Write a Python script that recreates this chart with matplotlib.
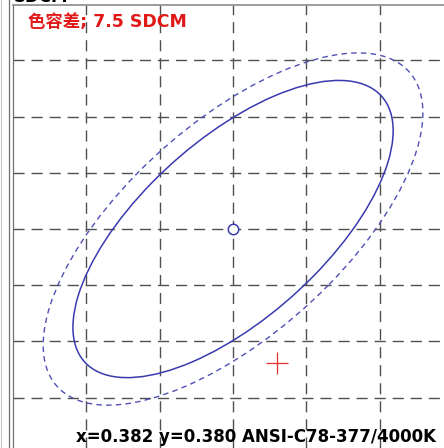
import matplotlib.pyplot as plt
import numpy as np
from matplotlib.patches import Ellipse
from matplotlib.lines import Line2D

# chromaticity target (ANSI 4000K) and grid
center_x, center_y = 0.382, 0.380
grid_x = [0.372, 0.377, 0.382, 0.387, 0.392]
grid_y = [0.365, 0.370, 0.375, 0.380, 0.385, 0.390, 0.395]
x_lim = (0.36699, 0.39639)
y_lim = (0.36052, 0.39993)

# ellipses in CIE xy: semi-axis a, semi-axis b, angle (deg)
inner_ellipse = (0.0157, 0.0069, 53.1)
outer_ellipse = (0.0186, 0.0082, 53.1)

# measured point
meas_x, meas_y = 0.385, 0.3681

title = '色容差; 7.5 SDCM'
footer = 'x=0.382 y=0.380 ANSI-C78-377/4000K'

blue = '#3a3ab0'
grid_col = '#505050'

fig = plt.figure(figsize=(4.44, 4.48), dpi=100)
ax = fig.add_axes([13/444, 0, 431/444, 443/448])
ax.set_xlim(*x_lim)
ax.set_ylim(*y_lim)
ax.set_xticks([])
ax.set_yticks([])
for s in ['right', 'bottom']:
    ax.spines[s].set_visible(False)
ax.spines['top'].set_color('#8a8a8a')
ax.spines['left'].set_color('#707070')
ax.spines['top'].set_linewidth(1.2)
ax.spines['left'].set_linewidth(0.9)

dash = (0, (8, 5))
for gx in grid_x:
    ax.axvline(gx, color=grid_col, lw=1.0, ls=dash, zorder=1)
for gy in grid_y:
    ax.axhline(gy, color=grid_col, lw=1.0, ls=dash, zorder=1)

a, b, ang = inner_ellipse
ax.add_patch(Ellipse((center_x, center_y), 2*a, 2*b, angle=ang,
                     fill=False, ec=blue, lw=1.1, zorder=3))
a, b, ang = outer_ellipse
ax.add_patch(Ellipse((center_x, center_y), 2*a, 2*b, angle=ang,
                     fill=False, ec='#5050b8', lw=1.0, ls=(0, (4, 3)), zorder=3))

ax.plot(center_x, center_y, 'o', ms=7.5, mfc='white', mec=blue, mew=1.1, zorder=4)
ax.plot(meas_x, meas_y, '+', ms=16, color='#e03030', mew=0.9, zorder=4)

ax.text((28 - 13)/431, 1 - 17/443, title, transform=ax.transAxes, color='#e01818',
        fontsize=12.5, fontweight='bold', va='center', ha='left',
        family=['DejaVu Sans', 'Noto Sans CJK SC'], zorder=5)
ax.text((256 - 13)/431, 11/443, footer, transform=ax.transAxes, color='black',
        fontsize=12, fontweight='bold', va='center', ha='center', zorder=5)

# cut-off label above the frame and outer frame lines
fig.text(14/444, 1 - 2/448, 'SDCM', color='black', fontsize=12,
         fontweight='bold', va='baseline', ha='left')
fig.add_artist(Line2D([9/444, 9/444], [0, 1], color='#707070', lw=0.9))
fig.add_artist(Line2D([0.5/444, 0.5/444], [0, 1], color='#c8c8c8', lw=0.8))

fig.savefig('out.png', dpi=100)
